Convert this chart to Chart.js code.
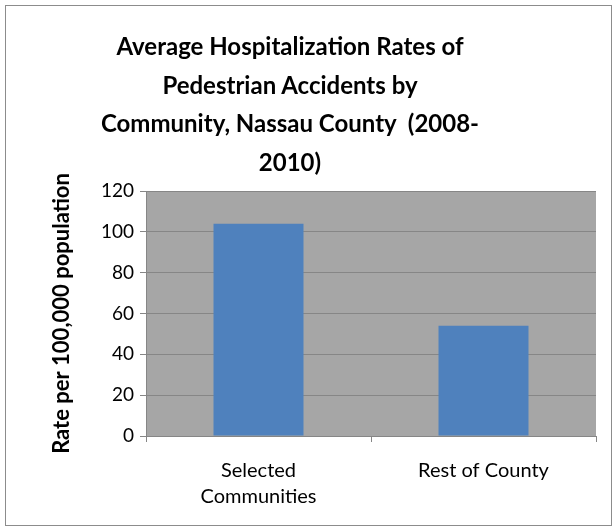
<!DOCTYPE html>
<html lang="en">
<head>
  <meta charset="UTF-8">
  <title>Average Hospitalization Rates of Pedestrian Accidents</title>
  <style>
    body {
      margin: 0;
      background-color: #ffffff;
      font-family: Lato, sans-serif;
    }
    #frame {
      position: absolute;
      left: 5px;
      top: 5px;
      width: 605px;
      height: 519px;
      border: 1px solid #8c8c8c;
    }
    #title {
      position: absolute;
      left: 0;
      top: 27px;
      width: 580px;
      text-align: center;
      font-weight: bold;
      font-size: 24px;
      line-height: 38.5px;
      color: #000;
    }
    #hospChart {
      position: absolute;
      left: 0;
      top: 0;
    }
  </style>
</head>
<body>
  <div id="frame"></div>
  <canvas id="hospChart" width="616" height="531"></canvas>
  <div id="title">Average Hospitalization Rates of<br>Pedestrian Accidents by<br>Community, Nassau County&nbsp; (2008-<br>2010)</div>

  <script src="https://cdn.jsdelivr.net/npm/chart.js"></script>
  <script>
    const communities = [['Selected', 'Communities'], 'Rest of County'];
    const rates = [104, 54];
    const yTicks = [0, 20, 40, 60, 80, 100, 120];

    const axisGray = '#868686';

    // gray plot area like the original spreadsheet chart
    const plotBg = {
      id: 'plotBg',
      beforeDraw(chart) {
        const a = chart.chartArea;
        const ctx = chart.ctx;
        ctx.save();
        ctx.fillStyle = '#a6a6a6';
        ctx.fillRect(a.left, a.top, a.right - a.left, a.bottom - a.top);
        ctx.restore();
      }
    };

    const ctx = document.getElementById('hospChart').getContext('2d');
    new Chart(ctx, {
      type: 'bar',
      data: {
        labels: communities,
        datasets: [{
          data: rates,
          backgroundColor: '#4f81bd',
          borderWidth: 0,
          barPercentage: 0.4,
          categoryPercentage: 1
        }]
      },
      options: {
        responsive: false,
        animation: false,
        layout: { padding: { top: 191, left: 48, right: 20, bottom: 0 } },
        plugins: {
          legend: { display: false },
          tooltip: { enabled: false }
        },
        scales: {
          x: {
            afterFit(s) { s.height = 95; },
            grid: {
              offset: true,
              drawOnChartArea: false,
              drawTicks: true,
              tickLength: 6,
              color: axisGray
            },
            border: { color: axisGray, width: 1 },
            ticks: {
              color: '#000',
              padding: 16,
              maxRotation: 0,
              font: { family: 'Lato', size: 20, lineHeight: 1.3 }
            }
          },
          y: {
            min: 0,
            max: 120,
            afterFit(s) { s.width = 98; },
            afterBuildTicks(s) { s.ticks = yTicks.map(v => ({ value: v })); },
            grid: { color: axisGray, tickLength: 6 },
            border: { color: axisGray, width: 1 },
            ticks: {
              color: '#000',
              padding: 6,
              font: { family: 'Lato', size: 19 }
            },
            title: {
              display: true,
              text: 'Rate per 100,000 population',
              color: '#000',
              padding: { top: 1, bottom: 0 },
              font: { family: 'Lato', size: 22, weight: 'bold' }
            }
          }
        }
      },
      plugins: [plotBg]
    });
  </script>
</body>
</html>
